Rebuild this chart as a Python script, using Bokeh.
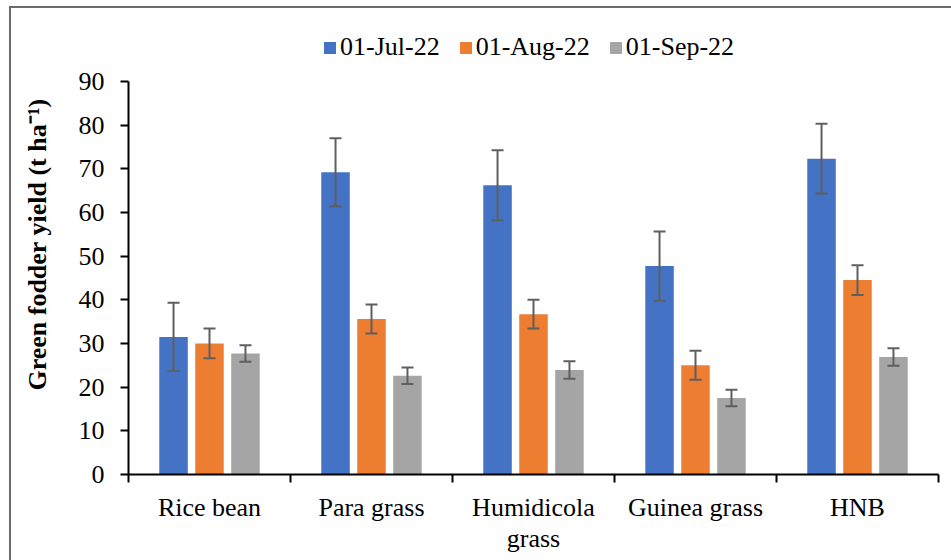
from bokeh.plotting import figure
from bokeh.models import (ColumnDataSource, Range1d, FixedTicker,
                          Legend, LegendItem, Whisker, TeeHead)
from bokeh.embed import file_html
from bokeh.resources import INLINE

categories = ["Rice bean", "Para grass", "Humidicola\ngrass", "Guinea grass", "HNB"]
series_names = ["01-Jul-22", "01-Aug-22", "01-Sep-22"]
jul = [31.5, 69.2, 66.2, 47.7, 72.3]
aug = [30.0, 35.6, 36.7, 25.0, 44.5]
sep = [27.7, 22.6, 23.9, 17.5, 26.9]
jul_err = [7.8, 7.8, 8.0, 7.9, 8.0]
aug_err = [3.4, 3.3, 3.3, 3.3, 3.4]
sep_err = [1.9, 1.9, 2.0, 1.9, 2.0]
y_ticks = list(range(0, 100, 10))

colors = ["#4472C4", "#ED7D31", "#A5A5A5"]
FONT = "Liberation Serif"

p = figure(width=951, height=560, output_backend="svg", toolbar_location=None,
           x_range=Range1d(0, len(categories)), y_range=Range1d(0, 105.3),
           min_border_left=128, min_border_right=13, min_border_top=14,
           min_border_bottom=86)
p.xgrid.visible = False
p.ygrid.visible = False
p.outline_line_color = None
p.background_fill_color = "white"
p.border_fill_color = None
# outer chart border: only its top and left edges fall inside the picture
p.styles = {
    "background": ("linear-gradient(#6b6b6b, #6b6b6b) 9px 6px / 2px 100% no-repeat, "
                   "linear-gradient(#6b6b6b, #6b6b6b) 9px 6px / 100% 2px no-repeat, "
                   "white")
}

offsets = [-0.222, 0.0, 0.222]
bar_w = 0.176
items = []
for vals, errs, col, off, name in zip([jul, aug, sep], [jul_err, aug_err, sep_err],
                                      colors, offsets, series_names):
    xs = [i + 0.5 + off for i in range(len(categories))]
    src = ColumnDataSource(dict(x=xs, top=vals,
                                upper=[v + e for v, e in zip(vals, errs)],
                                lower=[v - e for v, e in zip(vals, errs)]))
    r = p.vbar(x="x", top="top", width=bar_w, source=src, fill_color=col, line_color=None)
    items.append(LegendItem(label=name, renderers=[r]))
    w = Whisker(base="x", upper="upper", lower="lower", source=src,
                line_color="#5f5f5f", line_width=2, level="overlay",
                upper_head=TeeHead(size=12, line_color="#5f5f5f", line_width=2),
                lower_head=TeeHead(size=12, line_color="#5f5f5f", line_width=2))
    p.add_layout(w)

# axes
xa = p.xaxis[0]
xa.ticker = FixedTicker(ticks=[i + 0.5 for i in range(len(categories))],
                        minor_ticks=list(range(len(categories) + 1)))
xa.major_label_overrides = {i + 0.5: c for i, c in enumerate(categories)}
xa.major_tick_out = 0
xa.major_tick_in = 0
xa.minor_tick_out = 8
xa.minor_tick_in = 0
xa.minor_tick_line_color = "black"
xa.minor_tick_line_width = 2
xa.axis_line_color = "black"
xa.axis_line_width = 2
xa.major_label_text_font = FONT
xa.major_label_text_font_size = "26px"
xa.major_label_text_color = "black"
xa.major_label_text_line_height = 1.1
xa.major_label_standoff = 10

ya = p.yaxis[0]
ya.ticker = FixedTicker(ticks=y_ticks, minor_ticks=[])
ya.bounds = (0, 90)
ya.major_tick_out = 8
ya.major_tick_in = 0
ya.major_tick_line_width = 2
ya.major_tick_line_color = "black"
ya.axis_line_width = 2
ya.axis_line_color = "black"
ya.major_label_text_font = FONT
ya.major_label_text_font_size = "26px"
ya.major_label_text_color = "black"
ya.major_label_standoff = 16
ya.axis_label = "Green fodder yield (t ha\u207b\u00b9)"
ya.axis_label_text_font = FONT
ya.axis_label_text_font_size = "26px"
ya.axis_label_text_font_style = "bold"
ya.axis_label_text_color = "black"
ya.axis_label_standoff = 24

legend = Legend(items=items, orientation="horizontal", location=(194, 412),
                label_text_font=FONT, label_text_font_size="26px",
                label_text_color="black", glyph_width=15, glyph_height=15,
                label_standoff=3, spacing=18, padding=0, margin=0,
                border_line_color=None, background_fill_alpha=0)
p.add_layout(legend, "center")

open("out.html", "w").write(file_html(p, INLINE))
